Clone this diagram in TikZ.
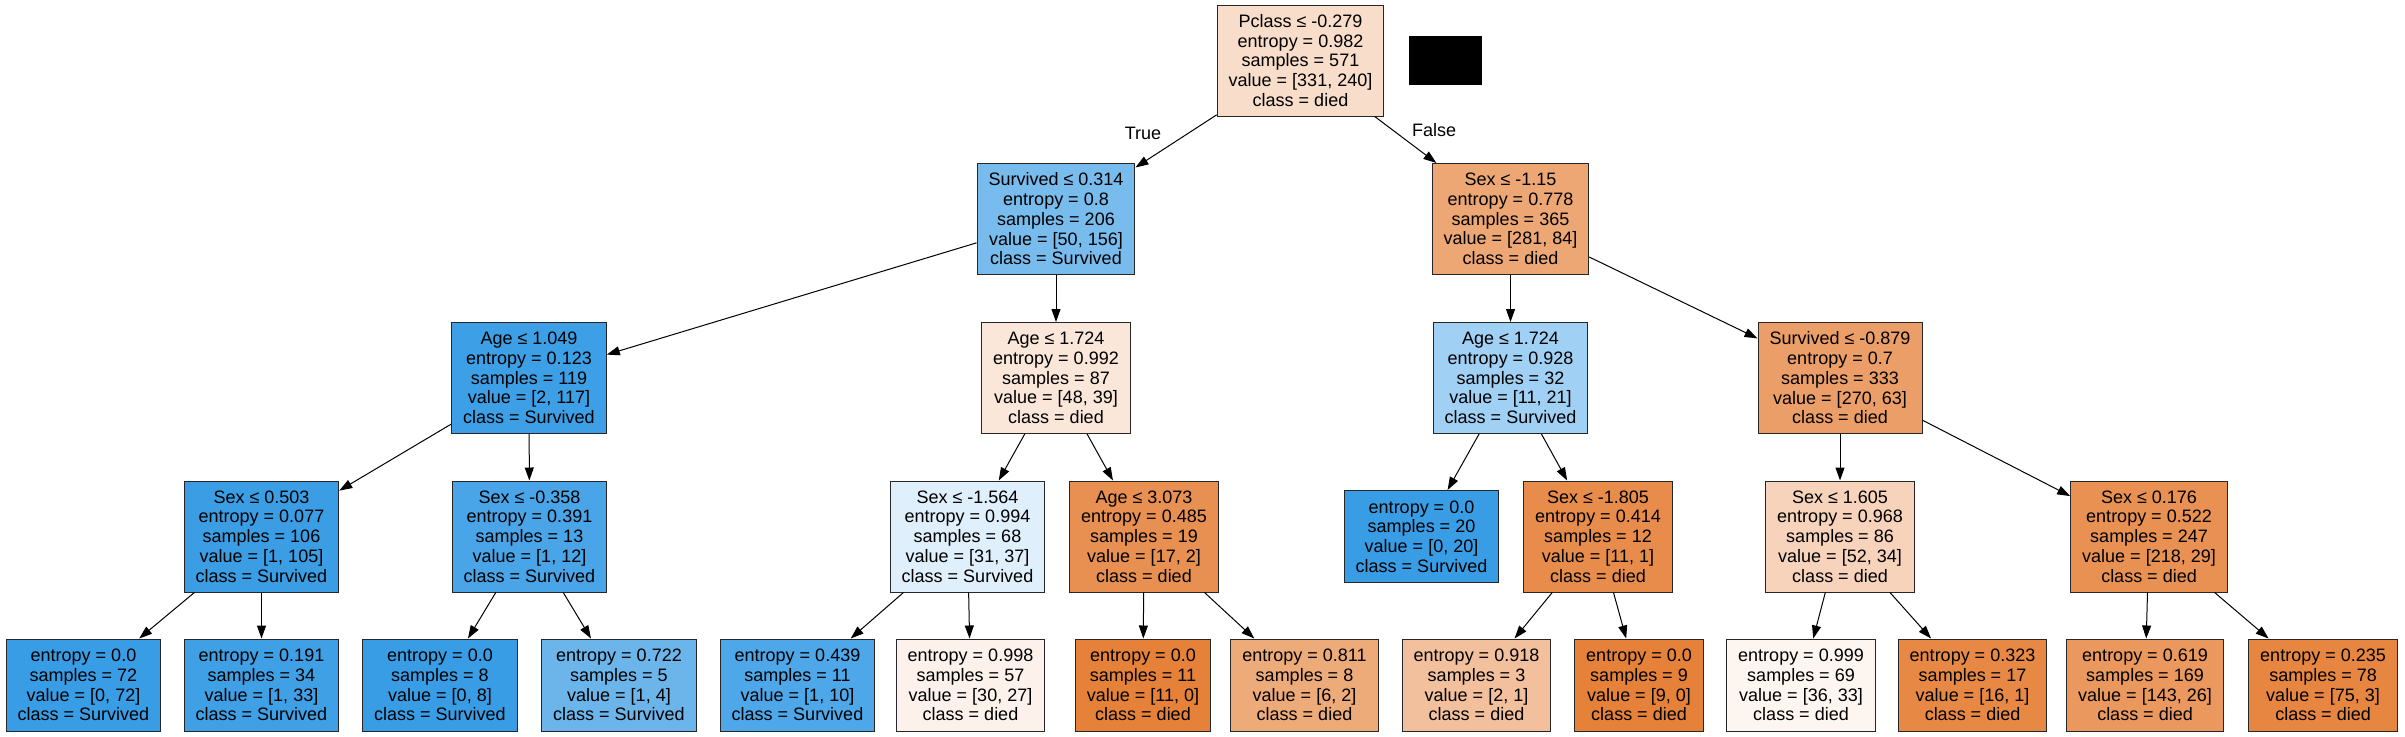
\documentclass[tikz,border=0pt]{standalone}
\usepackage{fontspec}
\setmainfont{Liberation Sans}
\usetikzlibrary{arrows.meta}
\definecolor{died}{HTML}{E58139}
\definecolor{survived}{HTML}{399DE5}

\begin{document}
\begin{tikzpicture}[x=1pt,y=-1pt,
	every node/.style={font=\fontsize{18}{19.75}\selectfont},
	tnode/.style={draw=black!85, line width=1pt, align=center, inner xsep=11.5pt, inner ysep=2pt},
	decision/.style={tnode, minimum height=111pt},
	leafbox/.style={tnode, minimum height=92pt},
	branch/.style={-{Triangle[length=13pt,width=9pt]}, line width=1pt}]

\path [use as bounding box] (0,0) rectangle (2405,736);

% Root and first split
\node [decision, fill=died!27!white] (n0) at (1300.5,60.5)
	{Pclass ≤ -0.279\\entropy = 0.982\\samples = 571\\value = [331, 240]\\class = died};
\fill [black] (1409,36) rectangle (1482,85);

\node [decision, fill=survived!68!white] (n1) at (1056,219)
	{Survived ≤ 0.314\\entropy = 0.8\\samples = 206\\value = [50, 156]\\class = Survived};
\node [decision, fill=died!70!white] (n16) at (1510.5,219)
	{Sex ≤ -1.15\\entropy = 0.778\\samples = 365\\value = [281, 84]\\class = died};

% Depth 2
\node [decision, fill=survived!98!white] (n2) at (529,378)
	{Age ≤ 1.049\\entropy = 0.123\\samples = 119\\value = [2, 117]\\class = Survived};
\node [decision, fill=died!19!white] (n9) at (1056,378)
	{Age ≤ 1.724\\entropy = 0.992\\samples = 87\\value = [48, 39]\\class = died};
\node [decision, fill=survived!48!white] (n17) at (1510.5,378)
	{Age ≤ 1.724\\entropy = 0.928\\samples = 32\\value = [11, 21]\\class = Survived};
\node [decision, fill=died!77!white] (n22) at (1840,378)
	{Survived ≤ -0.879\\entropy = 0.7\\samples = 333\\value = [270, 63]\\class = died};

% Depth 3
\node [decision, fill=survived!99!white] (n3) at (261.5,536.5)
	{Sex ≤ 0.503\\entropy = 0.077\\samples = 106\\value = [1, 105]\\class = Survived};
\node [decision, fill=survived!92!white] (n6) at (529.5,536.5)
	{Sex ≤ -0.358\\entropy = 0.391\\samples = 13\\value = [1, 12]\\class = Survived};
\node [decision, fill=survived!16!white] (n10) at (967.5,536.5)
	{Sex ≤ -1.564\\entropy = 0.994\\samples = 68\\value = [31, 37]\\class = Survived};
\node [decision, fill=died!88!white] (n13) at (1144,536.5)
	{Age ≤ 3.073\\entropy = 0.485\\samples = 19\\value = [17, 2]\\class = died};
\node [leafbox, fill=survived] (n18) at (1421.5,536.5)
	{entropy = 0.0\\samples = 20\\value = [0, 20]\\class = Survived};
\node [decision, fill=died!91!white] (n19) at (1598,536.5)
	{Sex ≤ -1.805\\entropy = 0.414\\samples = 12\\value = [11, 1]\\class = died};
\node [decision, fill=died!35!white] (n23) at (1840,536.5)
	{Sex ≤ 1.605\\entropy = 0.968\\samples = 86\\value = [52, 34]\\class = died};
\node [decision, fill=died!87!white] (n26) at (2149,536.5)
	{Sex ≤ 0.176\\entropy = 0.522\\samples = 247\\value = [218, 29]\\class = died};

% Leaves
\node [leafbox, fill=survived] (n4) at (83.5,685)
	{entropy = 0.0\\samples = 72\\value = [0, 72]\\class = Survived};
\node [leafbox, fill=survived!97!white] (n5) at (261.5,685)
	{entropy = 0.191\\samples = 34\\value = [1, 33]\\class = Survived};
\node [leafbox, fill=survived] (n7) at (440,685)
	{entropy = 0.0\\samples = 8\\value = [0, 8]\\class = Survived};
\node [leafbox, fill=survived!75!white] (n8) at (619,685)
	{entropy = 0.722\\samples = 5\\value = [1, 4]\\class = Survived};
\node [leafbox, fill=survived!90!white] (n11) at (797.5,685)
	{entropy = 0.439\\samples = 11\\value = [1, 10]\\class = Survived};
\node [leafbox, fill=died!10!white] (n12) at (970.5,685)
	{entropy = 0.998\\samples = 57\\value = [30, 27]\\class = died};
\node [leafbox, fill=died] (n14) at (1143,685)
	{entropy = 0.0\\samples = 11\\value = [11, 0]\\class = died};
\node [leafbox, fill=died!67!white] (n15) at (1304.5,685)
	{entropy = 0.811\\samples = 8\\value = [6, 2]\\class = died};
\node [leafbox, fill=died!50!white] (n20) at (1476.5,685)
	{entropy = 0.918\\samples = 3\\value = [2, 1]\\class = died};
\node [leafbox, fill=died] (n21) at (1639,685)
	{entropy = 0.0\\samples = 9\\value = [9, 0]\\class = died};
\node [leafbox, fill=died!8!white] (n24) at (1801,685)
	{entropy = 0.999\\samples = 69\\value = [36, 33]\\class = died};
\node [leafbox, fill=died!94!white] (n25) at (1972.5,685)
	{entropy = 0.323\\samples = 17\\value = [16, 1]\\class = died};
\node [leafbox, fill=died!82!white] (n27) at (2145,685)
	{entropy = 0.619\\samples = 169\\value = [143, 26]\\class = died};
\node [leafbox, fill=died!96!white] (n28) at (2323,685)
	{entropy = 0.235\\samples = 78\\value = [75, 3]\\class = died};

% Edges
\foreach \a/\b in {n0/n1, n0/n16, n1/n2, n1/n9, n16/n17, n16/n22,
	n2/n3, n2/n6, n3/n4, n3/n5, n6/n7, n6/n8,
	n9/n10, n9/n13, n10/n11, n10/n12, n13/n14, n13/n15,
	n17/n18, n17/n19, n19/n20, n19/n21,
	n22/n23, n22/n26, n23/n24, n23/n25, n26/n27, n26/n28}
	\draw [branch] (\a) -- (\b);

% Edge labels
\node (truelbl) at (1143,133) {True};
\node (falselbl) at (1434,130) {False};

\end{tikzpicture}
\end{document}
